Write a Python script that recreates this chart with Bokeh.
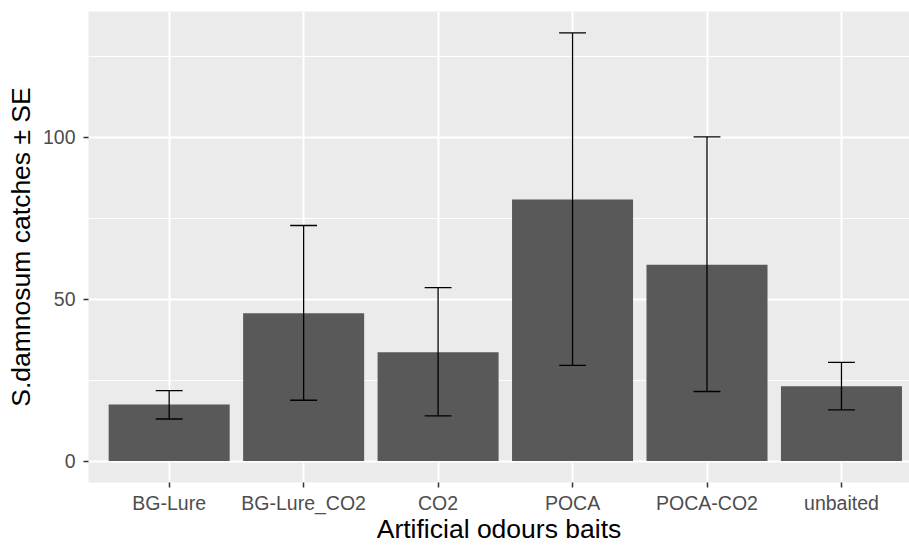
from bokeh.plotting import figure
from bokeh.models import Range1d, FixedTicker
from bokeh.embed import file_html
from bokeh.resources import INLINE

# ---- data ----
categories = ["BG-Lure", "BG-Lure_CO2", "CO2", "POCA", "POCA-CO2", "unbaited"]
means = [17.5, 45.7, 33.6, 80.8, 60.7, 23.1]
upper = [21.8, 72.8, 53.6, 132.3, 100.2, 30.5]
lower = [13.0, 18.8, 14.0, 29.6, 21.5, 15.8]
y_ticks = [0, 50, 100]
y_minor = [25, 75, 125]

FONT = "Liberation Sans"
xs = list(range(1, len(categories) + 1))
ymax = max(upper)
pad = 0.05 * ymax

p = figure(width=909, height=546, output_backend="svg", toolbar_location=None,
           x_range=Range1d(0.4, 6.506), y_range=Range1d(-pad, ymax + pad),
           min_border_left=88, min_border_right=0, min_border_top=11,
           min_border_bottom=0)

p.background_fill_color = "#EBEBEB"
p.border_fill_color = "white"
p.outline_line_color = None

# grid
p.xgrid.ticker = FixedTicker(ticks=xs)
p.xgrid.grid_line_color = "white"
p.xgrid.grid_line_width = 2
p.ygrid.ticker = FixedTicker(ticks=y_ticks, minor_ticks=y_minor)
p.ygrid.grid_line_color = "white"
p.ygrid.grid_line_width = 2
p.ygrid.minor_grid_line_color = "white"
p.ygrid.minor_grid_line_width = 1

# bars
p.vbar(x=xs, top=means, bottom=0, width=0.9, fill_color="#595959", line_color=None)

# error bars
cap = 0.1
p.segment(x0=xs, y0=lower, x1=xs, y1=upper, line_color="black", line_width=1.3)
p.segment(x0=[x - cap for x in xs], y0=upper, x1=[x + cap for x in xs], y1=upper,
          line_color="black", line_width=1.3)
p.segment(x0=[x - cap for x in xs], y0=lower, x1=[x + cap for x in xs], y1=lower,
          line_color="black", line_width=1.3)

# axes
p.xaxis.ticker = FixedTicker(ticks=xs)
p.xaxis.major_label_overrides = {x: c for x, c in zip(xs, categories)}
p.yaxis.ticker = FixedTicker(ticks=y_ticks)
for ax in (p.xaxis, p.yaxis):
    ax.axis_line_color = None
    ax.major_tick_line_color = "#333333"
    ax.major_tick_line_width = 1.5
    ax.major_tick_out = 5
    ax.major_tick_in = 0
    ax.minor_tick_line_color = None
    ax.major_label_text_font = FONT
    ax.major_label_text_font_size = "19.5px"
    ax.major_label_text_color = "#4D4D4D"
    ax.axis_label_text_font = FONT
    ax.axis_label_text_font_size = "26.5px"
    ax.axis_label_text_font_style = "normal"
    ax.axis_label_text_color = "black"

p.xaxis.axis_label = "Artificial odours baits"
p.yaxis.axis_label = "S.damnosum catches \u00b1 SE"
p.xaxis.major_label_standoff = 4
p.xaxis.axis_label_standoff = -3
p.yaxis.major_label_standoff = 8
p.yaxis.axis_label_standoff = 4

open("out.html", "w").write(file_html(p, INLINE))
